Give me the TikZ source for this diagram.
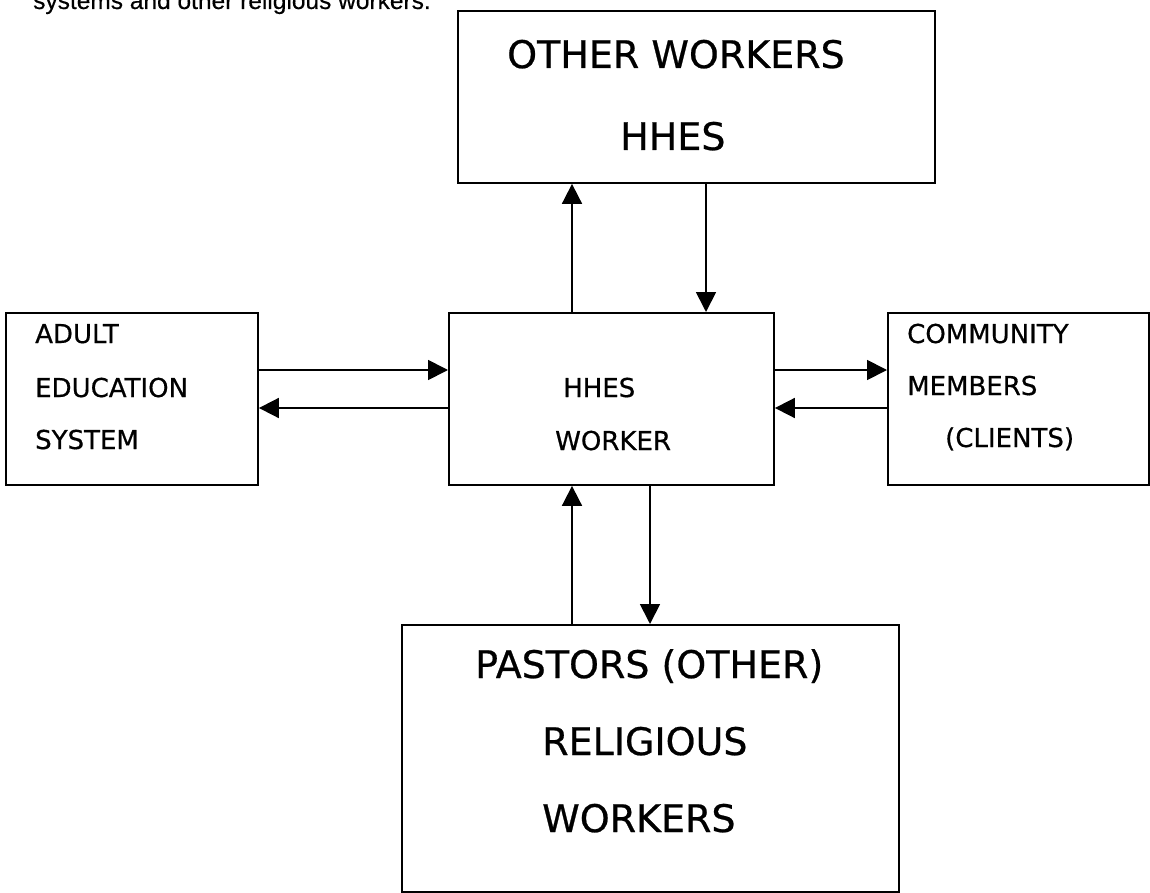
\documentclass[tikz,border=0pt]{standalone}
\usepackage{fontspec}
\setmainfont{DejaVu Sans}[FakeBold=0.6]
\newfontfamily\capfont{Liberation Sans}[FakeBold=0.4]
\usetikzlibrary{arrows.meta}
\tikzset{
  box/.style={draw, line width=1.9pt, rectangle, inner sep=0pt, anchor=north west},
  small/.style={inner sep=0pt, anchor=base west, font=\fontsize{26}{30}\selectfont},
  big/.style={inner sep=0pt, anchor=base west, font=\fontsize{38}{44}\selectfont},
  arr/.style={line width=1.8pt, -{Triangle[length=20pt, width=20pt]}}
}
\begin{document}
\begin{tikzpicture}[x=1pt, y=-1pt]
\useasboundingbox (0,0) rectangle (1150,893);
% caption fragment cut by the top edge
\node[inner sep=0pt, anchor=base west, font=\capfont\fontsize{24.5}{28}\selectfont] (cap) at (33,9) {systems and other religious workers.};
% boxes
\node[box, minimum width=477pt, minimum height=172pt] (top) at (457,10) {};
\node[box, minimum width=252pt, minimum height=172pt] (left) at (5,312) {};
\node[box, minimum width=325pt, minimum height=172pt] (center) at (448,312) {};
\node[box, minimum width=261pt, minimum height=172pt] (right) at (887,312) {};
\node[box, minimum width=497pt, minimum height=267pt] (bottom) at (401,624) {};
% texts
\node[big] (t1) at (507,68) {OTHER WORKERS};
\node[big] (t2) at (620,150) {HHES};
\node[small] (l1) at (35,343) {ADULT};
\node[small] (l2) at (35,397) {EDUCATION};
\node[small] (l3) at (35,449) {SYSTEM};
\node[small] (c1) at (563,397) {HHES};
\node[small] (c2) at (555,450) {WORKER};
\node[small] (r1) at (907,343) {COMMUNITY};
\node[small] (r2) at (907,395) {MEMBERS};
\node[small] (r3) at (945,447) {(CLIENTS)};
\node[big] (b1) at (475,678) {PASTORS (OTHER)};
\node[big] (b2) at (542,755) {RELIGIOUS};
\node[big] (b3) at (542,832) {WORKERS};
% guide coordinates
\coordinate (a1) at (572,0);
\coordinate (a2) at (706,0);
\coordinate (a3) at (650,0);
\coordinate (h1) at (0,370);
\coordinate (h2) at (0,408);
% connectors
\draw[arr] (center.north -| a1) -- (top.south -| a1);
\draw[arr] (top.south -| a2) -- (center.north -| a2);
\draw[arr] (left.east |- h1) -- (center.west |- h1);
\draw[arr] (center.west |- h2) -- (left.east |- h2);
\draw[arr] (center.east |- h1) -- (right.west |- h1);
\draw[arr] (right.west |- h2) -- (center.east |- h2);
\draw[arr] (bottom.north -| a1) -- (center.south -| a1);
\draw[arr] (center.south -| a3) -- (bottom.north -| a3);
\end{tikzpicture}
\end{document}
